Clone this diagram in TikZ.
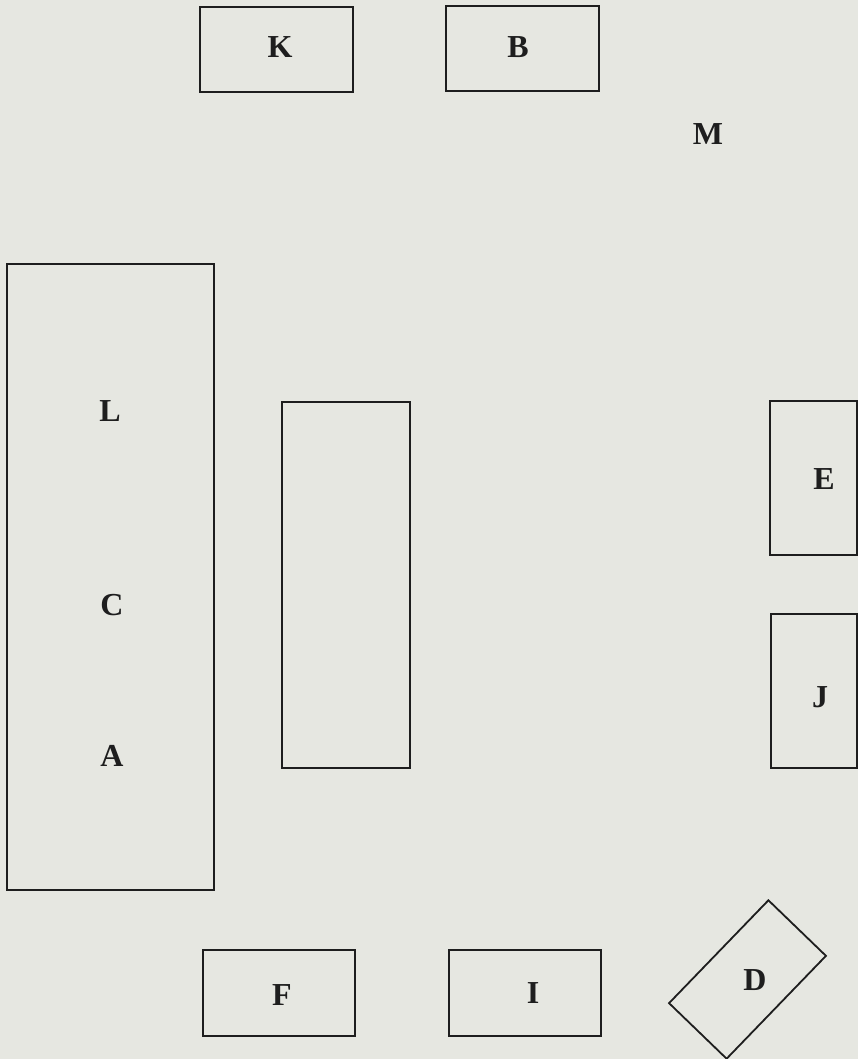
\documentclass[tikz,border=0pt]{standalone}
\usepackage{fontspec}
\setmainfont{Liberation Serif}
\usepackage{xcolor}
\usetikzlibrary{positioning}
\definecolor{paper}{RGB}{230,231,225}
\definecolor{ink}{RGB}{30,30,30}

\begin{document}
\begin{tikzpicture}[
  x=1pt, y=1pt,
  box/.style={draw=ink, line width=1.8pt, inner sep=0pt,
    font=\fontsize{32}{36}\selectfont\bfseries, text=ink},
  lbl/.style={inner sep=0pt, font=\fontsize{32}{36}\selectfont\bfseries, text=ink}
]
% page
\fill[paper] (0,0) rectangle (858,1059);
\useasboundingbox (0,0) rectangle (858,1059);

% top row
\node[box, minimum width=153pt, minimum height=85pt] (kbox) at (276.5,1009.5) {};
\node[lbl] (klbl) at (280,1012) {K};
\node[box, minimum width=153pt, minimum height=85pt] (bbox) at (522.5,1010.5) {};
\node[lbl] (blbl) at (518,1012) {B};
\node[lbl] (mlbl) at (708,925) {M};

% long table on the left
\node[box, minimum width=207pt, minimum height=626pt] (long) at (110.5,482) {};
\node[lbl] (llbl) at (110,648) {L};
\node[lbl] (clbl) at (112,454) {C};
\node[lbl] (albl) at (112,303) {A};

% middle table
\node[box, minimum width=128pt, minimum height=366pt] (mid) at (346,474) {};

% right side
\node[box, minimum width=87pt, minimum height=154pt] (ebox) at (813.5,581) {};
\node[lbl] (elbl) at (824,580) {E};
\node[box, minimum width=86pt, minimum height=154pt] (jbox) at (814,368) {};
\node[lbl] (jlbl) at (820,362) {J};

% bottom row
\node[box, minimum width=152pt, minimum height=86pt] (fbox) at (279,66) {};
\node[lbl] (flbl) at (282,64) {F};
\node[box, minimum width=152pt, minimum height=86pt] (ibox) at (525,66) {};
\node[lbl] (ilbl) at (533,66) {I};
\node[box, minimum width=143pt, minimum height=80pt, rotate=46] (dbox) at (747.5,79.5) {};
\node[lbl] (dlbl) at (755,79) {D};

\end{tikzpicture}
\end{document}
